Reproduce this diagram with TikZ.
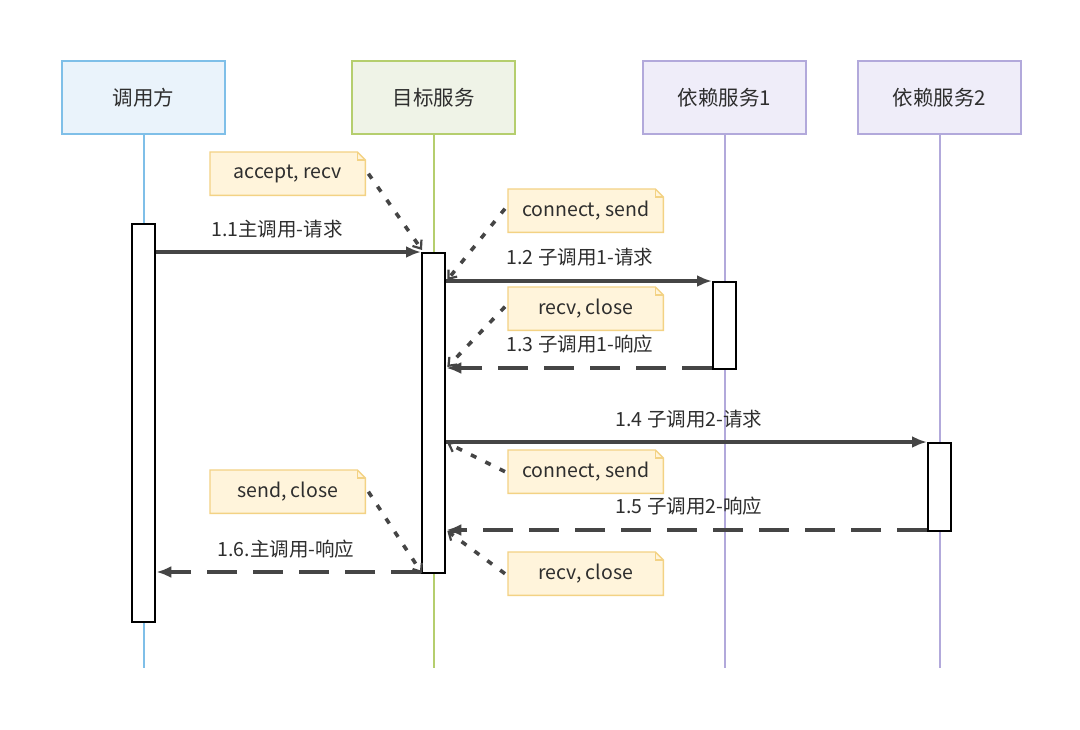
\documentclass[tikz,border=0pt]{standalone}
\usepackage{fontspec}
\setmainfont{Noto Sans CJK SC}
\usetikzlibrary{arrows.meta,calc}
\definecolor{txt}{HTML}{2E2E2E}
\definecolor{ln}{HTML}{454545}
\definecolor{bluef}{HTML}{EAF3FB}\definecolor{blued}{HTML}{7FBFE8}
\definecolor{greenf}{HTML}{EFF3E7}\definecolor{greend}{HTML}{B5CE6E}
\definecolor{purf}{HTML}{EFEDF9}\definecolor{purd}{HTML}{B2A9DB}
\definecolor{notef}{HTML}{FFF4DB}\definecolor{noted}{HTML}{F3D284}
\tikzset{
  x=1pt,y=-1pt,
  hdr/.style={draw, line width=2pt, minimum width=163pt, minimum height=73pt, inner sep=0, anchor=north west, text=txt, font=\fontsize{20.5}{24}\selectfont},
  life/.style={line width=2pt},
  act/.style={draw=black, fill=white, line width=2.3pt, minimum width=23pt, inner sep=0, anchor=north west},
  msg/.style={draw=ln, line width=3.2pt, -{Latex[length=15pt,width=12pt]}},
  rmsg/.style={msg, dash pattern=on 30pt off 16pt},
  mlab/.style={text=txt, font=\fontsize{19.5}{23}\selectfont, inner sep=0},
  notebox/.style={text=txt, font=\fontsize{19.5}{23}\selectfont, minimum width=155pt, minimum height=43pt, inner sep=0, anchor=north west},
  dotl/.style={draw=ln, line width=3.6pt, dash pattern=on 6pt off 10pt, -{Straight Barb[length=7pt,width=11pt,line width=2.2pt]}}
}
\newcommand{\dognote}[4]{% name, x, y, text
  \node[notebox] (#1) at (#2,#3) {#4};
  \fill[notef] (#1.north west) -- ($(#1.north east)+(-8,0)$) -- ($(#1.north east)+(0,8)$) -- (#1.south east) -- (#1.south west) -- cycle;
  \draw[noted, line width=1.4pt] (#1.north west) -- ($(#1.north east)+(-8,0)$) -- ($(#1.north east)+(0,8)$) -- (#1.south east) -- (#1.south west) -- cycle;
  \draw[noted, line width=1.1pt] ($(#1.north east)+(-8,0)$) -- ($(#1.north east)+(-8,8)$) -- ($(#1.north east)+(0,8)$);
  \node[notebox] at (#2,#3) {#4};
}
\begin{document}
\begin{tikzpicture}
\useasboundingbox[fill=white] (0,0) rectangle (1080,729);
% headers
\node[hdr, draw=blued, fill=bluef] (h1) at (61,60) {调用方};
\node[hdr, draw=greend, fill=greenf] (h2) at (351,60) {目标服务};
\node[hdr, draw=purd, fill=purf] (h3) at (642,60) {依赖服务1};
\node[hdr, draw=purd, fill=purf] (h4) at (857,60) {依赖服务2};
% lifeline ends
\coordinate (e1) at (h1.south |- 0,668);
\coordinate (e2) at (h2.south |- 0,668);
\coordinate (e3) at (h3.south |- 0,668);
\coordinate (e4) at (h4.south |- 0,668);
\draw[life, draw=blued] (h1.south) -- (e1);
\draw[life, draw=greend] (h2.south) -- (e2);
\draw[life, draw=purd] (h3.south) -- (e3);
\draw[life, draw=purd] (h4.south) -- (e4);
% activations
\node[act, minimum height=398pt] (a1) at (131,223) {};
\node[act, minimum height=320pt] (a2) at (421,252) {};
\node[act, minimum height=87pt] (a3) at (712,281) {};
\node[act, minimum height=88pt] (a4) at (927,442) {};
% message levels
\coordinate (y1) at (0,252);
\coordinate (y2) at (0,281);
\coordinate (y3) at (0,368);
\coordinate (y4) at (0,442);
\coordinate (y5) at (0,530);
\coordinate (y6) at (0,572);
\draw[msg] (a1.east |- y1) -- (a2.west |- y1);
\draw[msg] (a2.east |- y2) -- (a3.west |- y2);
\draw[rmsg] (a3.west |- y3) -- (a2.east |- y3);
\draw[msg] (a2.east |- y4) -- (a4.west |- y4);
\draw[rmsg] (a4.west |- y5) -- (a2.east |- y5);
\draw[rmsg] (a2.west |- y6) -- (a1.east |- y6);
% message labels
\node[mlab] (l1) at (277,229) {1.1主调用-请求};
\node[mlab] (l2) at (580,257) {1.2 子调用1-请求};
\node[mlab] (l3) at (580,344) {1.3 子调用1-响应};
\node[mlab] (l4) at (689,419) {1.4 子调用2-请求};
\node[mlab] (l5) at (689,506) {1.5 子调用2-响应};
\node[mlab] (l6) at (286,549) {1.6.主调用-响应};
% notes
\dognote{n1}{210}{152}{accept, recv}
\dognote{n2}{508}{189}{connect, send}
\dognote{n3}{508}{287}{recv, close}
\dognote{n4}{508}{450}{connect, send}
\dognote{n5}{210}{470}{send, close}
\dognote{n6}{508}{552}{recv, close}
% dotted links
\draw[dotl] ($(n1.east)+(3,0)$) -- ($(a2.north west)+(1,-2)$);
\draw[dotl] ($(n2.west)+(-3,-2)$) -- ($(a2.east |- y2)+(1,-1)$);
\draw[dotl] ($(n3.west)+(-3,-2)$) -- ($(a2.east |- y3)+(1,-1)$);
\draw[dotl] ($(n4.west)+(-3,0)$) -- ($(a2.east |- y4)+(1,1)$);
\draw[dotl] ($(n5.east)+(3,0)$) -- ($(a2.south west)+(1,-1)$);
\draw[dotl] ($(n6.west)+(-3,0)$) -- ($(a2.east |- y5)+(1,1)$);
\end{tikzpicture}
\end{document}
